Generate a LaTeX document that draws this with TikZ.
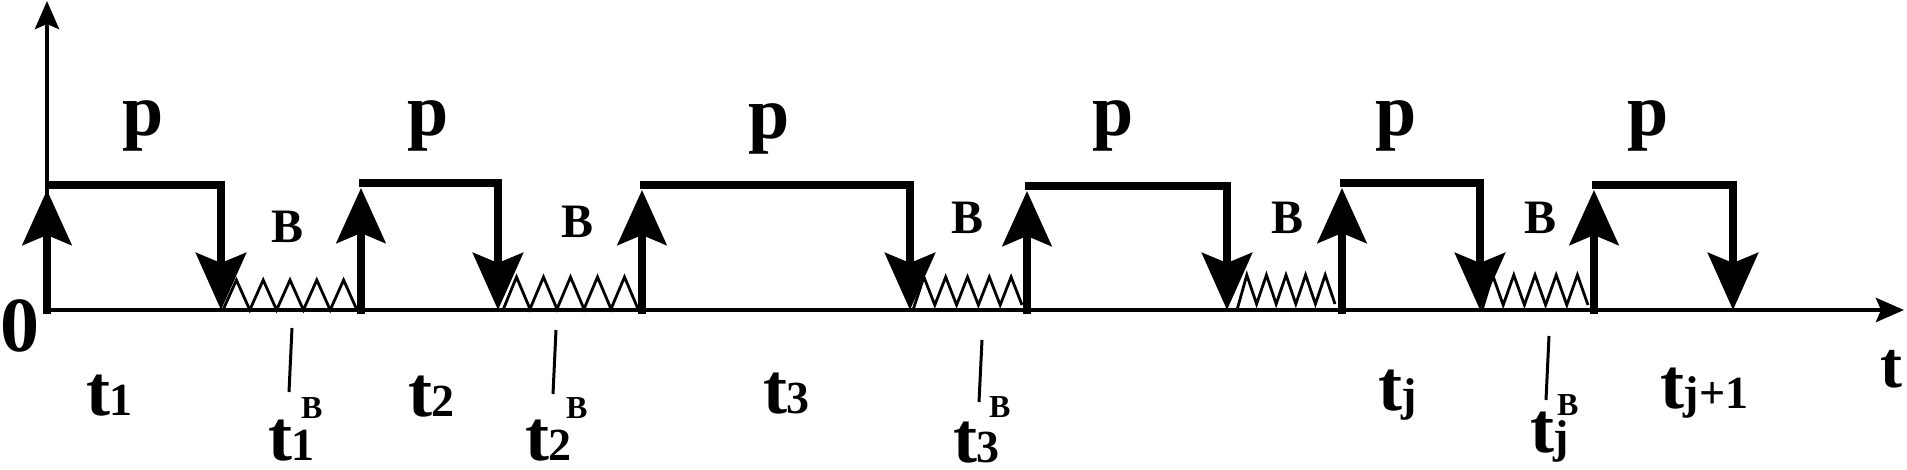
\documentclass[tikz,border=0pt]{standalone}
\usepackage{fontspec}
\setmainfont{Liberation Serif}
\usetikzlibrary{arrows.meta}
\newcommand\bigsz{\fontsize{72}{72}\selectfont}
\newcommand\midsz{\fontsize{46}{46}\selectfont}
\newcommand\tsub[1]{{\bigsz t}{\midsz #1}}
\tikzset{
  axisln/.style={line width=4.5pt, -{Stealth[length=28pt,width=24pt,inset=5pt]}},
  risearr/.style={line width=7.5pt, -{Stealth[length=55pt,width=49pt,inset=10pt]}},
  fallarr/.style={line width=8pt, line join=miter, -{Stealth[length=57pt,width=50pt,inset=10pt]}},
  zig/.style={line width=2.8pt, line join=miter},
  tickln/.style={line width=3pt},
  lbl/.style={inner sep=0pt, outer sep=0pt, font=\bfseries},
}
\begin{document}
\begin{tikzpicture}[x=1pt,y=-1pt]
\useasboundingbox (0,0) rectangle (1907,469);
% axes
\coordinate (o) at (47,310);
\coordinate (ytop) at (47,1);
\coordinate (xstart) at (45,310);
\coordinate (xend) at (1904,310);
\draw[axisln] (o) -- (ytop);
\draw[axisln] (xstart) -- (xend);
% pulses
\foreach \u/\d/\h [count=\i] in {47/221/185, 361/498/183, 642/910/185, 1027/1227/186, 1342/1480/183, 1594/1733/185}{
  \coordinate (up\i) at (\u,314);
  \coordinate (uptip\i) at (\u,{\h+5});
  \coordinate (tl\i) at ({\u-2},\h);
  \coordinate (tr\i) at (\d,\h);
  \coordinate (dn\i) at (\d,310);
  \draw[risearr] (up\i) -- (uptip\i);
  \draw[fallarr] (tl\i) -- (tr\i) -- (dn\i);
}
% zigzags
\foreach \a/\b/\pk/\vl in {223/357/280/310, 503/638/277/309, 913/1022/277/305, 1237/1335/275/304, 1482/1588/275/305}{
  \draw[zig] (\a,310) \foreach \k in {1,...,5}{ -- ({\a+(\b-\a)*(2*\k-1)/10},\pk) -- ({\a+(\b-\a)*(2*\k)/10},\vl) };
}
% p labels
\foreach \x/\y [count=\i] in {143/135, 428/135, 769/138, 1113/135, 1396/135, 1648/135}{
  \node[lbl, anchor=base] (p\i) at (\x,\y) {\fontsize{74}{74}\selectfont p};
}
% B labels
\foreach \x/\y [count=\i] in {288/242, 578/237, 967/233, 1287/233, 1540/233}{
  \node[lbl, anchor=base] (b\i) at (\x,\y) {\fontsize{48}{48}\selectfont B};
}
% axis labels
\node[lbl, anchor=base west] (zero) at (1,351) {\fontsize{78}{78}\selectfont 0};
\node[lbl, anchor=base west] (taxis) at (1880,387) {\fontsize{66}{66}\selectfont t};
% durations
\node[lbl, anchor=base west] (t1) at (86,415) {\tsub{1}};
\node[lbl, anchor=base west] (t2) at (408,416) {\tsub{2}};
\node[lbl, anchor=base west] (t3) at (763,413) {\tsub{3}};
\node[lbl, anchor=base west] (tj) at (1378,410) {\tsub{j}};
\node[lbl, anchor=base west] (tjp) at (1660,408) {\tsub{j+1}};
% B durations
\foreach \x/\y/\s/\bx/\by/\ka/\kb/\kc/\kd [count=\i] in {
  268/460/1/301/418/292/328/289/392,
  525/460/2/566/418/556/330/553/394,
  953/462/3/989/417/982/340/979/402,
  1530/452/j/1557/415/1549/336/1546/400}{
  \node[lbl, anchor=base west] (tb\i) at (\x,\y) {\tsub{\s}};
  \node[lbl, anchor=base west] (sb\i) at (\bx,\by) {\fontsize{32}{32}\selectfont B};
  \coordinate (ka\i) at (\ka,\kb);
  \coordinate (kb\i) at (\kc,\kd);
  \draw[tickln] (ka\i) -- (kb\i);
}
\end{tikzpicture}
\end{document}
